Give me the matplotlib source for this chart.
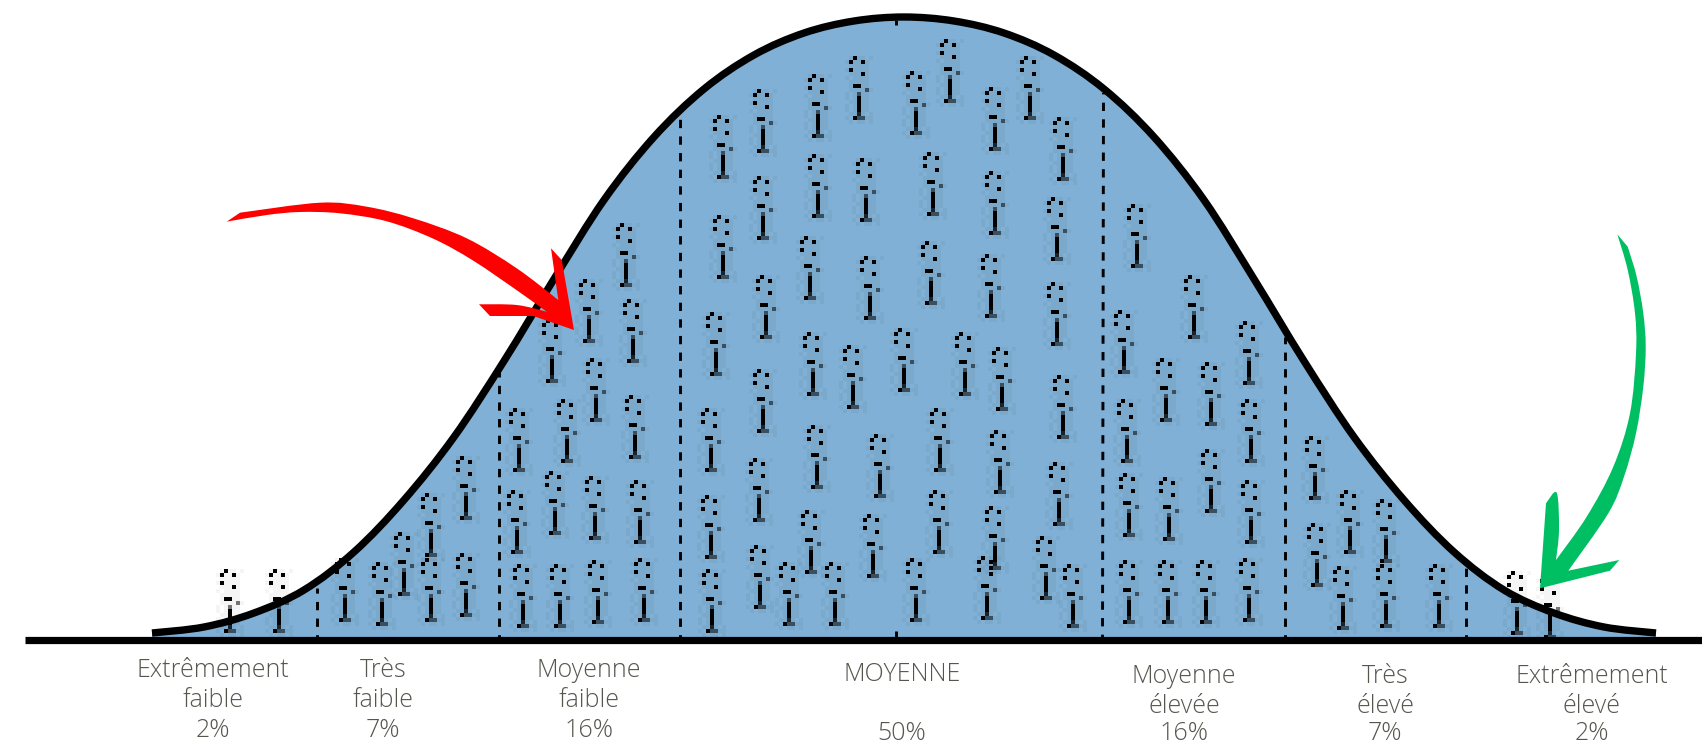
import numpy as np
import matplotlib
matplotlib.use("Agg")
import matplotlib.pyplot as plt
from matplotlib.path import Path
from matplotlib.patches import PathPatch

W, H = 1702, 743
SCALE = 1702 / 1568

# bell outline, in reference pixels
curve_x = [152, 204, 254, 304, 354, 404, 454, 504, 554, 604, 654, 704, 754, 804, 854,
           904, 954, 1004, 1054, 1104, 1154, 1204, 1254, 1304, 1354, 1404, 1454, 1504, 1554, 1604, 1656]
curve_y = [633, 627, 613, 590, 552, 500, 437, 361, 279, 200, 137, 89, 55, 33, 21,
           17, 21, 33, 55, 89, 137, 200, 279, 361, 437, 500, 552, 590, 613, 627, 633]
baseline_y = 640
baseline_x = [25, 1702]

# section separators: x at base, x at curve, y at curve
sep_x0 = [316.7, 499.3, 680, 1102.5, 1285, 1466]
sep_x1 = [316.7, 499.3, 680, 1103.5, 1285, 1466]
sep_top = [588, 372, 117, 93, 337, 568]

# people icons: stem x and foot y, as read on the 1568 wide view
icon_x = [211, 256,
          317, 351, 371, 396, 396, 428, 428,
          481, 515, 550, 592, 475, 510, 547, 589, 477, 521, 548, 584, 508, 542, 582, 576,
          655, 654, 654, 659, 665, 665,
          699, 698, 702, 705, 702, 702,
          726, 746, 768, 752, 748, 745, 753, 753,
          790, 797, 801, 785, 810, 803,
          843, 843, 859, 857, 832, 865, 864,
          874, 916, 916, 912, 888, 922, 920, 916, 908,
          948, 978, 973, 973, 978, 975, 963, 988,
          1047, 1035, 1037, 1039, 1039, 1075, 1076, 1073, 1099, 1110, 1115, 1115, 1150, 1152, 1152, 1150,
          1211, 1212, 1243, 1236, 1276, 1276, 1325,
          1397, 1427]
icon_y = [580, 580,
          570, 574, 546, 570, 510, 566, 476,
          576, 576, 572, 570, 508, 490, 495, 498, 432, 424, 386, 420, 350, 313, 332, 262,
          580, 512, 432, 344, 254, 162,
          558, 478, 396, 310, 218, 138,
          574, 526, 574, 448, 362, 274, 198, 124,
          108, 202, 292, 374, 456, 530,
          570, 122, 196, 278, 358, 432, 508,
          92, 136, 214, 290, 362, 376, 452, 522, 568,
          108, 164, 238, 316, 402, 482, 550, 576,
          244, 342, 424, 492, 572, 572, 496, 386, 310, 572, 470, 390, 352, 424, 498, 570,
          458, 538, 508, 578, 516, 576, 576,
          582, 586]

icon_rows = [" .#.. .",
             ".#..#. ",
             " ..... ",
             ".#.... ",
             " ...#. ",
             ". .... ",
             " ..... ",
             " .##.. ",
             " ....g.",
             ". .g.. ",
             ". .#.. ",
             " ..#.. ",
             ". .#.. ",
             ". .#.. ",
             " ..d. .",
             ". #gg..",
             " . .. ."]
icon_alpha = {" ": 0.0, ".": 0.04, "g": 0.55, "d": 0.8, "#": 1.0}

# arrows, reference pixels
red_x = [226.7, 240, 320, 366.7, 413.3, 466.7, 516.7, 558.3, 551, 561.7, 574, 533.3, 490, 479, 516.7, 546.7,
         520, 473.3, 433.3, 386.7, 340, 300, 266.7]
red_y = [221.7, 212.7, 202.7, 206.7, 218.3, 238.3, 268.3, 300, 248.3, 260, 330, 316, 316, 304.3, 305, 311.7,
         292.5, 260.7, 238.7, 221.3, 213.3, 212, 215]
green_x = [1617.3, 1627.7, 1636.7, 1643.3, 1645.7, 1643.3, 1636, 1624, 1608.3, 1568.3, 1619.3, 1610, 1540, 1546,
           1556.7, 1559, 1556, 1586.7, 1613.3, 1630, 1636, 1635, 1627.7]
green_y = [234.3, 246.7, 276.7, 313.3, 346.7, 386.7, 433.3, 476.7, 513.3, 570.7, 560, 570.7, 588.3, 503.3,
           492.7, 530, 560, 516.7, 466.7, 413.3, 353.3, 313.3, 270]

# labels
label_x = [213, 383, 589, 902, 1184, 1385, 1592]
label_lines = [["Extrêmement", "faible", "2%"],
               ["Très", "faible", "7%"],
               ["Moyenne", "faible", "16%"],
               ["MOYENNE", "", "50%"],
               ["Moyenne", "élevée", "16%"],
               ["Très", "élevé", "7%"],
               ["Extrêmement", "élevé", "2%"]]
label_y = [[677, 707, 737], [677, 707, 737], [677, 707, 737], [681, 711, 740],
           [683, 713, 740], [683, 713, 740], [683, 713, 740]]

FILL = "#80B0D5"
TEXT = "#55564E"


def smooth_segments(pts):
    pts = np.asarray(pts, float)
    verts, n = [], len(pts)
    for i in range(n - 1):
        p0 = pts[max(i - 1, 0)]
        p1 = pts[i]
        p2 = pts[i + 1]
        p3 = pts[min(i + 2, n - 1)]
        verts += [p1 + (p2 - p0) / 6, p2 - (p3 - p1) / 6, p2]
    return verts


def smooth_path(xs, ys):
    pts = np.column_stack([xs, ys]).astype(float)
    segs = smooth_segments(pts)
    return Path([pts[0]] + segs, [Path.MOVETO] + [Path.CURVE4] * len(segs))


def arrow_path(xs, ys, runs):
    """Closed outline; each (a, b) run of points is smoothed, the rest stays straight."""
    pts = np.column_stack([xs, ys]).astype(float)
    n = len(pts)
    verts, codes = [pts[0]], [Path.MOVETO]
    i = 0
    while i < n:
        run = next((r for r in runs if r[0] == i), None)
        if run:
            seq = [pts[k % n] for k in range(run[0], run[1] + 1)]
            segs = smooth_segments(seq)
            verts += segs
            codes += [Path.CURVE4] * len(segs)
            i = run[1]
        else:
            verts.append(pts[(i + 1) % n])
            codes.append(Path.LINETO)
            i += 1
    return Path(verts, codes)


fig = plt.figure(figsize=(W / 100, H / 100), dpi=100, facecolor="white")
ax = fig.add_axes([0, 0, 1, 1])
ax.set_axis_off()

# fill
bell = smooth_path(curve_x, curve_y)
ax.add_patch(PathPatch(Path(
    np.vstack([bell.vertices, [[curve_x[-1], baseline_y], [curve_x[0], baseline_y], [curve_x[0], curve_y[0]]]]),
    list(bell.codes) + [Path.LINETO, Path.LINETO, Path.CLOSEPOLY]),
    facecolor=FILL, edgecolor="none", zorder=1))

# separators
for x0, x1, t in zip(sep_x0, sep_x1, sep_top):
    ax.plot([x0, x1], [baseline_y + 3, t], color="black", lw=2.1, dashes=(2.85, 2.85), zorder=2,
            dash_capstyle="butt")
ax.plot([896, 896], [20, 25], color="black", lw=2.1, zorder=2, solid_capstyle="butt")
ax.plot([896, 896], [631, 640], color="black", lw=2.1, zorder=2, solid_capstyle="butt")

# icons
stamp = np.zeros((len(icon_rows), 7, 4))
for r, row in enumerate(icon_rows):
    for c, ch in enumerate(row):
        stamp[r, c, 3] = icon_alpha[ch]
CELL = 4.0
for ix, iy in zip(icon_x, icon_y):
    cx = round(ix * SCALE) + 1
    by = round(iy * SCALE) + 3
    ax.imshow(stamp, extent=(cx - 3.5 * CELL, cx + 3.5 * CELL, by + CELL, by - 16 * CELL),
              origin="upper", interpolation="nearest", aspect="auto", zorder=3)

# curve + baseline
ax.add_patch(PathPatch(bell, facecolor="none", edgecolor="black", lw=5.3, capstyle="butt", zorder=4))
ax.plot(baseline_x, [baseline_y, baseline_y], color="black", lw=5.2, solid_capstyle="butt", zorder=5)

# arrows
ax.add_patch(PathPatch(arrow_path(red_x, red_y, [(1, 7), (13, 15), (15, 23)]),
                       facecolor="#FF0000", edgecolor="none", zorder=6))
ax.add_patch(PathPatch(arrow_path(green_x, green_y, [(1, 9), (13, 16), (16, 23)]),
                       facecolor="#00BF63", edgecolor="none", zorder=6))

# labels
for x, lines, ys in zip(label_x, label_lines, label_y):
    for s, y in zip(lines, ys):
        if s:
            ax.text(x, y, s, ha="center", va="baseline", fontsize=18, color=TEXT,
                    family="Open Sans", fontweight="light")

ax.set_xlim(0, W)
ax.set_ylim(H, 0)
fig.savefig("out.png", dpi=100)
